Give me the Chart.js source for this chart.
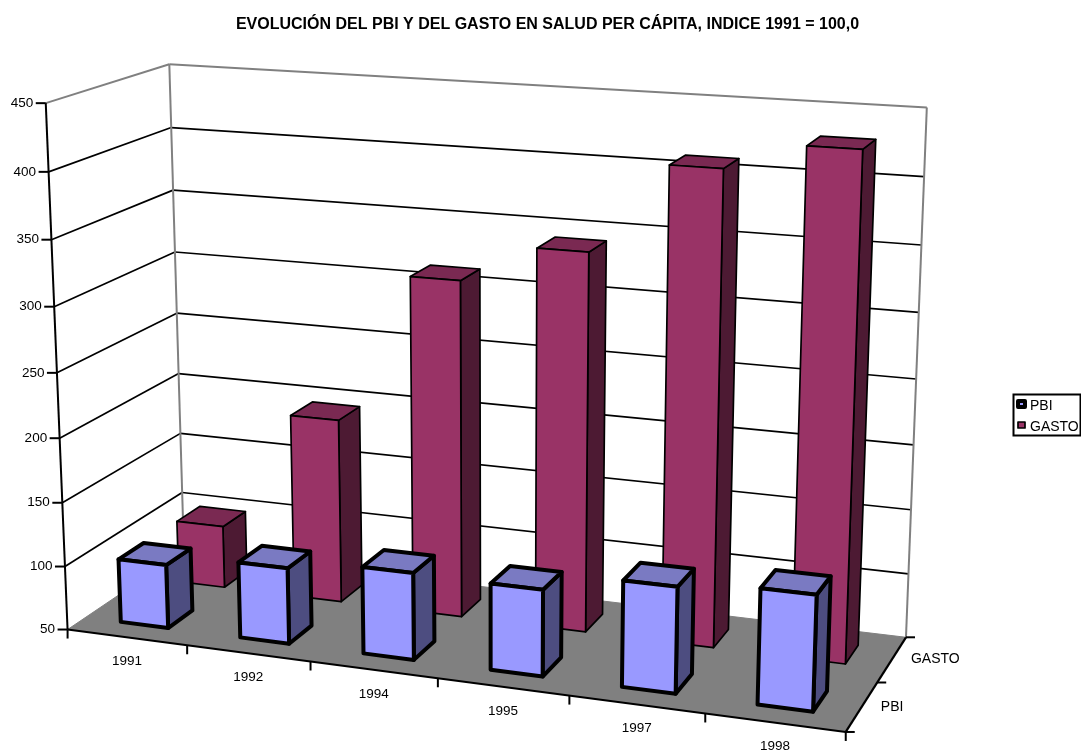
<!DOCTYPE html>
<html>
<head>
<meta charset="utf-8">
<title>Evolución del PBI y del gasto en salud</title>
<script src="https://cdn.jsdelivr.net/npm/chart.js@4/dist/chart.umd.min.js"></script>
<style>
  html, body { margin: 0; padding: 0; background: #fff; }
  canvas { display: block; }
</style>
</head>
<body>
<canvas id="chart" width="1081" height="751"></canvas>
<script>
const years = ["1991", "1992", "1994", "1995", "1997", "1998"];
const depthLabels = ["PBI", "GASTO"];
const pbi = [100, 109, 117, 116, 130, 136];
const gasto = [100, 196, 313, 342, 410, 430];

const FONT = '"Liberation Sans", Arial, sans-serif';
const DEPTH_SHARE = 0.42; // bar depth as a share of its row

// box corners (x, y, z in 0..1, z = 0 at the front) and where they land on the page
const frameAnchors = [
  [0, 0, 0, 67, 628],
  [0, 1, 0, 47, 103],
  [0, 1, 1, 168, 64],
  [0, 0, 1, 185, 552],
  [1, 1, 1, 927, 108],
  [1, 0, 1, 906, 636],
  [1, 0, 0, 846, 732],
  [0.5, 0, 0, 437, 680]
];

// least squares fit of a 3x4 perspective matrix
function fitCamera(anchors) {
  const rows = [];
  anchors.forEach(([x, y, z, u, v]) => {
    u /= 1000;
    v /= 1000;
    rows.push([x, y, z, 1, 0, 0, 0, 0, -u * x, -u * y, -u * z, u]);
    rows.push([0, 0, 0, 0, x, y, z, 1, -v * x, -v * y, -v * z, v]);
  });
  const n = 11;
  const a = [];
  for (let i = 0; i < n; i++) {
    a.push([]);
    for (let j = 0; j <= n; j++) {
      a[i].push(rows.reduce((s, r) => s + r[i] * r[j], 0));
    }
  }
  for (let i = 0; i < n; i++) {
    let p = i;
    for (let k = i + 1; k < n; k++) {
      if (Math.abs(a[k][i]) > Math.abs(a[p][i])) p = k;
    }
    [a[i], a[p]] = [a[p], a[i]];
    for (let k = 0; k < n; k++) {
      if (k === i) continue;
      const f = a[k][i] / a[i][i];
      for (let j = i; j <= n; j++) a[k][j] -= f * a[i][j];
    }
  }
  return a.map((r, i) => r[n] / r[i]);
}

const cam = fitCamera(frameAnchors);

function project(x, y, z) {
  const w = cam[8] * x + cam[9] * y + cam[10] * z + 1;
  return [
    (1000 * (cam[0] * x + cam[1] * y + cam[2] * z + cam[3])) / w,
    (1000 * (cam[4] * x + cam[5] * y + cam[6] * z + cam[7])) / w
  ];
}

function path(ctx, pts, fill, stroke, lineWidth) {
  ctx.beginPath();
  pts.forEach((p, i) => (i ? ctx.lineTo(p[0], p[1]) : ctx.moveTo(p[0], p[1])));
  ctx.closePath();
  if (fill) {
    ctx.fillStyle = fill;
    ctx.fill();
  }
  if (stroke) {
    ctx.strokeStyle = stroke;
    ctx.lineWidth = lineWidth;
    ctx.stroke();
  }
}

function line(ctx, a, b, color, lineWidth) {
  ctx.beginPath();
  ctx.moveTo(a[0], a[1]);
  ctx.lineTo(b[0], b[1]);
  ctx.strokeStyle = color;
  ctx.lineWidth = lineWidth;
  ctx.stroke();
}

function label(ctx, text, x, y, align, size) {
  ctx.font = size + "px " + FONT;
  ctx.fillStyle = "#000";
  ctx.textAlign = align;
  ctx.textBaseline = "middle";
  ctx.fillText(text, x, y);
}

// walls, floor and gridlines, behind the bars
function drawFrame(chart) {
  const { ctx, chartArea, scales } = chart;
  const yAt = (v) => (chartArea.bottom - scales.y.getPixelForValue(v)) / chartArea.height;
  ctx.save();
  ctx.lineJoin = "round";

  path(ctx, [project(0, 0, 0), project(1, 0, 0), project(1, 0, 1), project(0, 0, 1)], "#808080");

  scales.y.getTicks().forEach((t) => {
    const y = yAt(t.value);
    if (y <= 0 || y >= 1) return;
    line(ctx, project(0, y, 0), project(0, y, 1), "#000", 1.7);
    line(ctx, project(0, y, 1), project(1, y, 1), "#000", 1.7);
  });

  line(ctx, project(0, 1, 0), project(0, 1, 1), "#808080", 2);
  line(ctx, project(0, 1, 1), project(1, 1, 1), "#808080", 2);
  line(ctx, project(0, 1, 1), project(0, 0, 1), "#808080", 2);
  line(ctx, project(1, 1, 1), project(1, 0, 1), "#808080", 2);
  line(ctx, project(0, 0, 1), project(1, 0, 1), "#808080", 1);
  line(ctx, project(0, 0, 0), project(0, 0, 1), "#808080", 1);

  // axis lines
  line(ctx, project(0, 1, 0), project(0, 0, 0), "#000", 2);
  line(ctx, project(0, 0, 0), project(1, 0, 0), "#000", 2);
  line(ctx, project(1, 0, 0), project(1, 0, 1), "#000", 2.2);
  ctx.restore();
}

function drawBars(chart, meta) {
  const { ctx, chartArea, scales } = chart;
  const ds = chart.data.datasets[meta.index];
  const toX = (px) => (px - chartArea.left) / chartArea.width;
  const toY = (px) => (chartArea.bottom - px) / chartArea.height;
  const rowMid = toX(scales.z.getPixelForValue(meta.index));
  const rowDepth = scales.z.width / chartArea.width / depthLabels.length;
  const z0 = rowMid - (rowDepth * DEPTH_SHARE) / 2;
  const z1 = rowMid + (rowDepth * DEPTH_SHARE) / 2;

  ctx.save();
  ctx.lineJoin = "round";
  meta.data.forEach((bar) => {
    const x0 = toX(bar.x - bar.width / 2);
    const x1 = toX(bar.x + bar.width / 2);
    const top = toY(bar.y);
    const base = toY(bar.base);
    const bw = ds.borderWidth;
    path(ctx, [project(x1, base, z0), project(x1, base, z1), project(x1, top, z1), project(x1, top, z0)], ds.sideColor, "#000", bw);
    path(ctx, [project(x0, top, z0), project(x1, top, z0), project(x1, top, z1), project(x0, top, z1)], ds.topColor, "#000", bw);
    path(ctx, [project(x0, base, z0), project(x1, base, z0), project(x1, top, z0), project(x0, top, z0)], ds.backgroundColor, "#000", bw);
  });
  ctx.restore();
}

// tick marks, tick labels and the legend
function drawAxes(chart) {
  const { ctx, chartArea, scales } = chart;
  const toX = (px) => (px - chartArea.left) / chartArea.width;
  ctx.save();

  scales.y.getTicks().forEach((t) => {
    const y = (chartArea.bottom - scales.y.getPixelForValue(t.value)) / chartArea.height;
    const p = project(0, y, 0);
    line(ctx, [p[0] - 10, p[1]], p, "#000", 2);
    label(ctx, String(t.value), p[0] - 12.5, p[1], "right", 13.5);
  });

  for (let i = 0; i <= years.length; i++) {
    const p = project(i / years.length, 0, 0);
    line(ctx, p, [p[0], p[1] + 9], "#000", 2);
  }
  years.forEach((year, i) => {
    const p = project(toX(scales.x.getPixelForValue(i)), 0, 0);
    label(ctx, year, p[0], p[1] + 24, "center", 13.5);
  });

  for (let i = 0; i <= depthLabels.length; i++) {
    const p = project(1, 0, i / depthLabels.length);
    line(ctx, p, [p[0] + 9, p[1]], "#000", 2);
  }
  depthLabels.forEach((name, i) => {
    const p = project(1, 0, toX(scales.z.getPixelForValue(i)));
    label(ctx, name, p[0] + 19, p[1], "left", 14);
  });

  path(ctx, [[1013.5, 394.5], [1080.5, 394.5], [1080.5, 435.5], [1013.5, 435.5]], "#fff", "#000", 2);
  chart.data.datasets.forEach((ds, i) => {
    const y = 404 + i * 21;
    ctx.lineJoin = "round";
    path(ctx, [[1018, y - 3], [1025, y - 3], [1025, y + 3], [1018, y + 3]], ds.backgroundColor, "#000", ds.borderWidth);
    label(ctx, ds.label, 1030, y + 2, "left", 14);
  });
  ctx.restore();
}

const perspective = {
  id: "perspective",
  beforeDatasetsDraw(chart) {
    drawFrame(chart);
  },
  beforeDatasetDraw(chart, args) {
    drawBars(chart, args.meta);
    return false;
  },
  afterDatasetsDraw(chart) {
    drawAxes(chart);
  }
};

new Chart(document.getElementById("chart"), {
  type: "bar",
  data: {
    labels: years,
    datasets: [
      { label: "PBI", data: pbi, base: 50, backgroundColor: "#9999ff", sideColor: "#4d4d80", topColor: "#7a7ac2", borderWidth: 4 },
      { label: "GASTO", data: gasto, base: 50, backgroundColor: "#993366", sideColor: "#4d1a33", topColor: "#7a2952", borderWidth: 1.7 }
    ]
  },
  options: {
    responsive: false,
    animation: false,
    layout: { padding: { left: 14, top: 0 } },
    grouped: false,
    categoryPercentage: 1,
    barPercentage: 0.4,
    scales: {
      x: { display: false },
      y: { display: false, min: 50, max: 450, ticks: { stepSize: 50 } },
      z: { axis: "x", type: "category", labels: depthLabels, display: false, offset: true, position: "bottom" }
    },
    plugins: {
      legend: { display: false },
      tooltip: { enabled: false },
      title: {
        display: true,
        fullSize: false,
        text: "EVOLUCIÓN DEL PBI Y DEL GASTO EN SALUD PER CÁPITA, INDICE 1991 = 100,0",
        color: "#000",
        font: { family: FONT, size: 16, weight: "bold" },
        padding: { top: 15, bottom: 10 }
      }
    }
  },
  plugins: [perspective]
});
</script>
</body>
</html>
